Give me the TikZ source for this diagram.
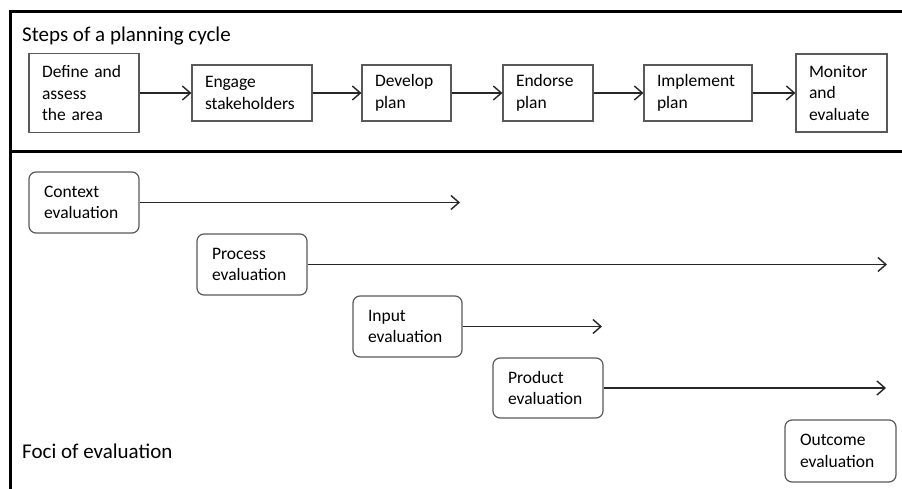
\documentclass[tikz,border=0pt]{standalone}
\usepackage{fontspec}
\setmainfont{Carlito}
\usetikzlibrary{arrows.meta,positioning}

\newcommand{\boxfont}{\fontsize{17.5}{21.5}\selectfont}
\newcommand{\headfont}{\fontsize{21}{25}\selectfont}

\tikzset{
  stepbox/.style={draw=black!65, line width=1.2pt, inner xsep=13pt, inner ysep=0pt,
    align=left, font=\boxfont, minimum height=56pt},
  focusbox/.style={draw=black!65, line width=1.2pt, rounded corners=7pt, inner xsep=15pt,
    inner ysep=0pt, align=left, font=\boxfont, minimum height=61pt},
  flow/.style={->, draw=black!85, line width=1.4pt},
  frameline/.style={line width=3pt, black},
  heading/.style={anchor=base west, inner sep=0pt, font=\headfont}
}

\begin{document}
\begin{tikzpicture}[x=1pt, y=-1pt, >={Straight Barb[length=8pt,width=14pt]}]
  \useasboundingbox (0,0) rectangle (902,489);

  %frame lines
  \draw[frameline] (10,489) -- (10,11.5) -- (902,11.5);
  \draw[frameline] (10,152) -- (902,152);

  \node[heading] (steps) at (22,42) {Steps of a planning cycle};
  \node[heading] (foci) at (22,458) {Foci of evaluation};

  %steps of the cycle
  \node[stepbox, text width=84pt, minimum height=79pt] (define) at (84,93) {Define and\\assess\\the area};
  \node[stepbox, text width=94pt] (engage) at (252,93) {Engage\\stakeholders};
  \node[stepbox, text width=63pt] (develop) at (406.5,93) {Develop\\plan};
  \node[stepbox, text width=64pt] (endorse) at (548,93) {Endorse\\plan};
  \node[stepbox, text width=82pt] (implement) at (698,93) {Implement\\plan};
  \node[stepbox, text width=65pt, minimum height=78pt] (monitor) at (841.5,93) {Monitor\\and\\evaluate};

  \draw[flow] (define) -- (engage);
  \draw[flow] (engage) -- (develop);
  \draw[flow] (develop) -- (endorse);
  \draw[flow] (endorse) -- (implement);
  \draw[flow] (implement) -- (monitor);

  %foci of evaluation
  \node[focusbox, text width=80pt] (context) at (84,202.5) {Context\\evaluation};
  \node[focusbox, text width=80pt] (process) at (252,264.5) {Process\\evaluation};
  \node[focusbox, text width=79pt] (input) at (407.5,326.5) {Input\\evaluation};
  \node[focusbox, text width=80pt, minimum height=60pt] (product) at (548,388) {Product\\evaluation};
  \node[focusbox, text width=81pt, minimum height=62pt] (outcome) at (840.5,451) {Outcome\\evaluation};

  \coordinate (contextend) at (460,202.5);
  \coordinate (processend) at (887,264.5);
  \coordinate (inputend) at (602,326.5);
  \coordinate (productend) at (886,388);

  \draw[flow] (context) -- (contextend);
  \draw[flow] (process) -- (processend);
  \draw[flow] (input) -- (inputend);
  \draw[flow] (product) -- (productend);

\end{tikzpicture}
\end{document}
